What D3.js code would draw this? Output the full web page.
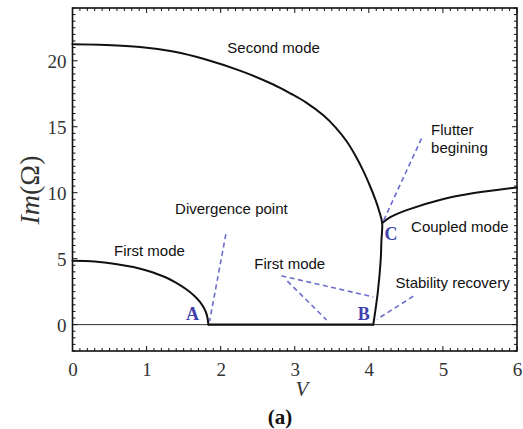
<!DOCTYPE html>
<html>
<head>
<meta charset="utf-8">
<script src="https://cdn.jsdelivr.net/npm/d3@7"></script>
<style>
  html, body { margin: 0; padding: 0; background: #fff; }
  svg { display: block; }
</style>
</head>
<body>
<svg id="chart" width="523" height="429"></svg>
<script>
// ---- Data ----
const xTicks = [0, 1, 2, 3, 4, 5, 6];
const yTicks = [0, 5, 10, 15, 20];
const xDomain = [0, 6];
const yDomain = [-2, 24];

// First mode: Im(Ω) vs V until divergence point A
const firstMode = [[0, 4.85], [0.3, 4.79], [0.6, 4.58], [0.82, 4.36], [1.0, 4.1], [1.27, 3.55],
  [1.4, 3.16], [1.54, 2.66], [1.65, 2.15], [1.72, 1.72], [1.78, 1.2], [1.815, 0.7], [1.835, 0]];
// Zero segment between A and B
const zeroSegment = [[1.835, 0], [4.06, 0]];
// Second mode, down to C and on to B
const secondMode = [[0, 21.25], [0.45, 21.2], [0.91, 21.05], [1.36, 20.7], [1.8, 20.1], [2.26, 19.25],
  [2.71, 18.2], [2.95, 17.5], [3.15, 16.85], [3.39, 15.85], [3.55, 14.95], [3.7, 13.9], [3.82, 12.8],
  [3.93, 11.6], [4.02, 10.45], [4.09, 9.45], [4.14, 8.6], [4.18, 7.7], [4.17, 6.4], [4.16, 4.9],
  [4.12, 2.4], [4.06, 0]];
// Coupled mode beyond C
const coupledMode = [[4.18, 7.7], [4.29, 8.15], [4.52, 8.7], [4.97, 9.47], [5.42, 9.97], [6, 10.4]];

// Annotation texts and anchor points (data coordinates)
const labels = [
  { text: "Second mode", v: 2.09, im: 21.0 },
  { text: "Flutter", v: 4.84, im: 14.8 },
  { text: "begining", v: 4.84, im: 13.4 },
  { text: "Coupled mode", v: 4.57, im: 7.4 },
  { text: "Divergence point", v: 1.385, im: 8.8 },
  { text: "First mode", v: 0.56, im: 5.6 },
  { text: "First mode", v: 2.455, im: 4.65 },
  { text: "Stability recovery", v: 4.36, im: 3.2 }
];
const points = [
  { text: "A", v: 1.62, im: 0.8 },
  { text: "B", v: 3.93, im: 0.85 },
  { text: "C", v: 4.3, im: 6.9 }
];
const pointers = [
  [[2.07, 6.85], [1.85, 0.25]],
  [[4.71, 14.1], [4.2, 7.9]],
  [[2.82, 3.7], [4.06, 2.1]],
  [[2.9, 3.3], [3.43, 0.35]],
  [[4.6, 2.15], [4.11, 0.4]]
];

// ---- Layout ----
const svg = d3.select("#chart");
const L = 72.5, R = 517, T = 8, B = 351;
const x = d3.scaleLinear().domain(xDomain).range([L, R]);
const y = d3.scaleLinear().domain(yDomain).range([B, T]);

const g = svg.append("g");

// zero reference line
g.append("line")
  .attr("x1", x(0)).attr("x2", x(6)).attr("y1", y(0)).attr("y2", y(0))
  .attr("stroke", "#333").attr("stroke-width", 1);

// ticks (inward) on all four sides
const tickG = g.append("g").attr("stroke", "#111").attr("stroke-width", 1);
const xMinor = d3.range(0, 61).map(i => i / 10);
const yMinor = d3.range(-4, 49).map(i => i / 2);
xMinor.forEach(v => {
  const major = Math.abs(v - Math.round(v)) < 1e-9;
  const len = major ? 5 : 3;
  tickG.append("line").attr("x1", x(v)).attr("x2", x(v)).attr("y1", B).attr("y2", B - len);
  tickG.append("line").attr("x1", x(v)).attr("x2", x(v)).attr("y1", T).attr("y2", T + len);
});
yMinor.forEach(v => {
  const major = Math.abs(v / 5 - Math.round(v / 5)) < 1e-9;
  const len = major ? 5 : 3;
  tickG.append("line").attr("y1", y(v)).attr("y2", y(v)).attr("x1", L).attr("x2", L + len);
  tickG.append("line").attr("y1", y(v)).attr("y2", y(v)).attr("x1", R).attr("x2", R - len);
});

// frame
g.append("rect")
  .attr("x", L).attr("y", T).attr("width", R - L).attr("height", B - T)
  .attr("fill", "none").attr("stroke", "#111").attr("stroke-width", 1.6);

// axes tick labels via d3 axes (lines hidden)
const xAxis = g.append("g").attr("transform", `translate(0,${B})`)
  .call(d3.axisBottom(x).tickValues(xTicks).tickSize(0).tickPadding(12).tickFormat(d3.format("d")));
const yAxis = g.append("g").attr("transform", `translate(${L},0)`)
  .call(d3.axisLeft(y).tickValues(yTicks).tickSize(0).tickPadding(6).tickFormat(d3.format("d")));
[xAxis, yAxis].forEach(a => {
  a.select(".domain").remove();
  a.selectAll("text").attr("font-family", "'Liberation Serif', 'DejaVu Serif', serif")
    .attr("font-size", 19).attr("fill", "#333");
});
yAxis.selectAll("text").attr("dy", "0.36em");

// curves
const line = d3.line().x(d => x(d[0])).y(d => y(d[1])).curve(d3.curveCatmullRom.alpha(0.5));
const curveG = g.append("g").attr("fill", "none").attr("stroke", "#111").attr("stroke-width", 2)
  .attr("stroke-linejoin", "round").attr("stroke-linecap", "round");
[firstMode, secondMode, coupledMode].forEach(d => curveG.append("path").attr("d", line(d)));
curveG.append("path").attr("d", d3.line().x(d => x(d[0])).y(d => y(d[1]))(zeroSegment)).attr("stroke-width", 2.2);

// dashed pointers
const dashG = g.append("g").attr("stroke", "#6b6bd0").attr("stroke-width", 1.6)
  .attr("stroke-dasharray", "5,3.5").attr("fill", "none");
pointers.forEach(p => dashG.append("line")
  .attr("x1", x(p[0][0])).attr("y1", y(p[0][1])).attr("x2", x(p[1][0])).attr("y2", y(p[1][1])));

// annotation labels
g.append("g").selectAll("text").data(labels).join("text")
  .attr("x", d => x(d.v)).attr("y", d => y(d.im)).attr("dy", "0.35em")
  .attr("font-family", "'Liberation Sans', Arial, sans-serif").attr("font-size", 15)
  .attr("fill", "#111").text(d => d.text);

// point letters
g.append("g").selectAll("text").data(points).join("text")
  .attr("x", d => x(d.v)).attr("y", d => y(d.im)).attr("dy", "0.35em").attr("text-anchor", "middle")
  .attr("font-family", "'Liberation Serif', 'DejaVu Serif', serif").attr("font-size", 18)
  .attr("font-weight", "bold").attr("fill", "#3f3fae").text(d => d.text);

// axis titles
svg.append("text").attr("x", 302).attr("y", 389).attr("dy", "0.35em").attr("text-anchor", "middle")
  .attr("font-family", "'Liberation Serif', serif").attr("font-style", "italic").attr("font-size", 21)
  .attr("fill", "#333").text("V");
svg.append("text").attr("transform", "translate(29,190) rotate(-90)").attr("dy", "0.35em")
  .attr("text-anchor", "middle").attr("font-family", "'Liberation Serif', serif").attr("font-size", 28)
  .attr("fill", "#333")
  .html('<tspan font-style="italic">Im</tspan><tspan>(Ω)</tspan>');
svg.append("text").attr("x", 280).attr("y", 417).attr("dy", "0.35em").attr("text-anchor", "middle")
  .attr("font-family", "'Liberation Serif', serif").attr("font-weight", "bold").attr("font-size", 21)
  .attr("fill", "#111").text("(a)");
</script>
</body>
</html>
